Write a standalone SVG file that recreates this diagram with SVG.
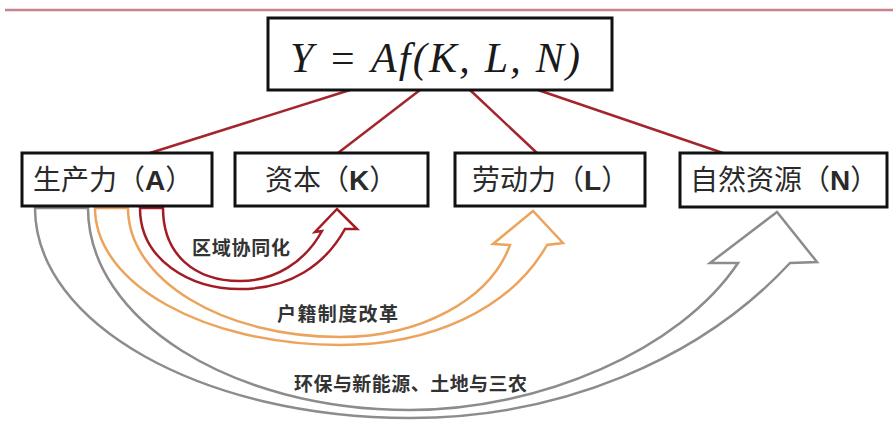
<svg xmlns="http://www.w3.org/2000/svg" width="893" height="421" viewBox="0 0 893 421">
<style>
.box{fill:#fff;stroke:#111;stroke-width:3}
.lbl{font-family:"Noto Sans CJK SC","Noto Sans",sans-serif;font-size:28px;fill:#2a2a2a}
.lat{font-weight:bold;font-family:"Liberation Sans","Noto Sans",sans-serif}
.conn{stroke:#a3252e;stroke-width:2.5;fill:none}
.arr{fill:#fff;stroke-width:2.5;stroke-linejoin:miter}
.note{font-family:"Noto Sans CJK SC",sans-serif;font-weight:bold;font-size:19px;fill:#333}
</style>
<rect width="893" height="421" fill="#fff"/>
<line x1="5" y1="10" x2="893" y2="10" stroke="#c7828b" stroke-width="2.5"/>
<g id="connectors">
<line class="conn" x1="350" y1="90" x2="150" y2="153"/>
<line class="conn" x1="420" y1="90" x2="338" y2="153"/>
<line class="conn" x1="470" y1="90" x2="537" y2="153"/>
<line class="conn" x1="538" y1="90" x2="723" y2="153"/>
<path id="arrow-N" class="arr" stroke="#8c8c8c" d="M35,208 C35,324 203,418 410,418 C560,418 700,360 790,263 L817,262 L777,212 L710,263 L738,263 C680,350 540,410 410,410 C232,410 88,320 88,208 Z"/>
<path id="arrow-L" class="arr" stroke="#eca35c" d="M95,208 C95,284 205,345 340,345 C430,345 510,310 547,245 L563,243 L533,211 L493,244 L510,245 C490,300 420,337 340,337 C223,337 128,280 128,208 Z"/>
<path id="arrow-K" class="arr" stroke="#a31c25" d="M140,208 C140,260 190,289 240,289 C290,289 325,265 345,229 L357,229 L337,209 L315,232 L322,231 C305,262 275,281 240,281 C195,281 163,255 163,208 Z"/>
<text class="note" x="192" y="255" textLength="98">区域协同化</text>
<text class="note" x="277" y="321" textLength="121">户籍制度改革</text>
<text class="note" x="294" y="391" textLength="233">环保与新能源、土地与三农</text>
</g>
<g id="Y">
<rect class="box" x="268" y="18" width="344" height="72"/>
<text x="290" y="72" font-family="Liberation Serif,serif" font-style="italic" font-size="42" fill="#1a1a1a" textLength="290">Y = Af(K, L, N)</text>
</g>
<g id="A">
<rect class="box" x="22" y="153" width="190" height="53"/>
<text class="lbl" x="33" y="190">生产力（<tspan class="lat">A</tspan>）</text>
</g>
<g id="K">
<rect class="box" x="235" y="153" width="193" height="53"/>
<text class="lbl" x="265" y="190">资本（<tspan class="lat">K</tspan>）</text>
</g>
<g id="L">
<rect class="box" x="455" y="153" width="190" height="53"/>
<text class="lbl" x="472" y="190">劳动力（<tspan class="lat">L</tspan>）</text>
</g>
<g id="N">
<rect class="box" x="680" y="153" width="207" height="54"/>
<text class="lbl" x="690" y="190">自然资源（<tspan class="lat">N</tspan>）</text>
</g>
</svg>
